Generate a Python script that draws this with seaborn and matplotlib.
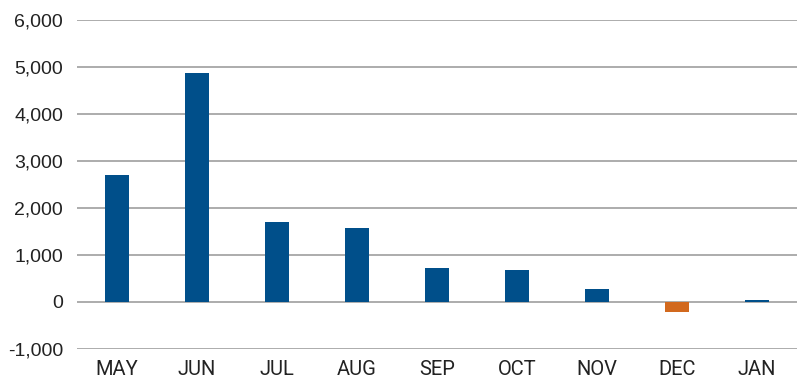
import matplotlib
matplotlib.use("Agg")
import matplotlib.pyplot as plt
import matplotlib.ticker as mticker
import pandas as pd
import seaborn as sns

months = ["MAY", "JUN", "JUL", "AUG", "SEP", "OCT", "NOV", "DEC", "JAN"]
values = [2700, 4870, 1710, 1570, 720, 680, 270, -220, 30]

df = pd.DataFrame({"month": months, "value": values})
df["sign"] = ["neg" if v < 0 else "pos" for v in values]

sns.set_style("white")
plt.rcParams["font.family"] = ["Liberation Sans", "DejaVu Sans"]

fig = plt.figure(figsize=(8, 3.92), dpi=100)
ax = fig.add_axes([0.096, 0.110, 0.90, 0.839])

ax.set_axisbelow(True)
ax.yaxis.grid(True, color="#a6a6a6", linewidth=1.3)
sns.barplot(data=df, x="month", y="value", hue="sign", order=months,
            palette={"pos": "#004f8a", "neg": "#d2691e"}, width=0.3,
            saturation=1, linewidth=0, dodge=False, legend=False, ax=ax)

ax.set_ylim(-1000, 6000)
ax.set_xlim(-0.5, len(months) - 0.5)
ax.set_yticks(range(-1000, 6001, 1000))
ax.yaxis.set_major_formatter(mticker.FuncFormatter(lambda v, p: f"{int(v):,}"))
ax.set_xlabel("")
ax.set_ylabel("")
for s in ax.spines.values():
    s.set_visible(False)
ax.tick_params(axis="y", labelsize=14, colors="#222222", length=0, pad=10)
ax.tick_params(axis="x", length=0, pad=8)
for lbl in ax.get_xticklabels():
    lbl.set_family(["Roboto", "DejaVu Sans"])
    lbl.set_fontstretch("condensed")
    lbl.set_fontsize(14.5)
    lbl.set_color("#222222")

fig.savefig("out.png", dpi=100)
